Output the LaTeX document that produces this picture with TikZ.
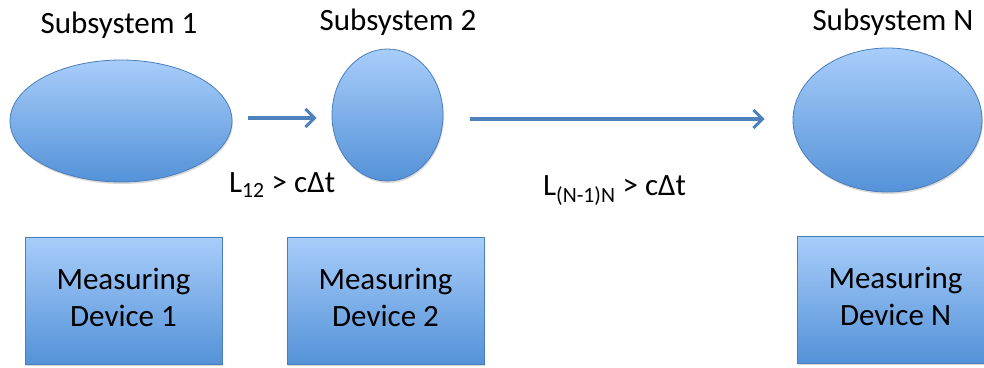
\documentclass[tikz,border=0pt]{standalone}
\usepackage{fontspec}
\setmainfont{Carlito}
\usetikzlibrary{shapes.geometric,arrows.meta,shadows}
\definecolor{edgeblue}{RGB}{74,126,187}
\definecolor{topblue}{RGB}{168,205,250}
\definecolor{botblue}{RGB}{84,146,216}
\definecolor{arrowblue}{RGB}{79,129,189}
\newcommand{\lowpad}{\rule[-7pt]{0pt}{7pt}}
\tikzset{
  blob/.style={ellipse, draw=edgeblue, line width=0.8pt, top color=topblue, bottom color=botblue, inner sep=0pt,
    drop shadow={shadow xshift=0.8pt, shadow yshift=-2pt, opacity=0.25, fill=black!60}},
  devbox/.style={rectangle, draw=edgeblue, line width=0.8pt, top color=topblue, bottom color=botblue,
    minimum width=197pt, minimum height=127pt, inner sep=0pt, align=center,
    font=\fontsize{31}{37}\selectfont,
    drop shadow={shadow xshift=0.8pt, shadow yshift=-2pt, opacity=0.25, fill=black!60}},
  title/.style={anchor=base, font=\fontsize{31}{38}\selectfont, inner sep=0pt},
  lbl/.style={anchor=base west, font=\fontsize{31}{38}\selectfont, inner sep=0pt},
  link/.style={draw=arrowblue, line width=3.5pt, -{Straight Barb[length=9pt, width=18pt, line width=3pt]}},
}
\begin{document}
\begin{tikzpicture}[x=1pt, y=-1pt]
\useasboundingbox (0,0) rectangle (984,367);
% subsystems
\node[blob, minimum width=222pt, minimum height=122pt] (e1) at (121,121) {};
\node[blob, minimum width=111pt, minimum height=132pt] (e2) at (387.5,115) {};
\node[blob, minimum width=189pt, minimum height=144pt] (eN) at (887.5,120) {};
% titles
\node[title] (t1) at (119,33) {Subsystem 1};
\node[title] (t2) at (398,30) {Subsystem 2};
\node[title] (tN) at (893,30) {Subsystem N};
% connectors
\draw[link, shorten <=16pt, shorten >=15pt] (e1.east |- 0,118) -- (e2.west |- 0,118);
\draw[link, shorten <=27pt, shorten >=28pt] (e2.east |- 0,119) -- (eN.west |- 0,119);
% labels
\node[lbl] (l12) at (229,192) {L\textsubscript{12} > cΔt};
\node[lbl] (lN) at (543,195) {L\textsubscript{(N-1)N} > cΔt};
% devices
\node[devbox] (d1) at (123.5,300.5) {Measuring\\Device 1\lowpad};
\node[devbox] (d2) at (385.5,300.5) {Measuring\\Device 2\lowpad};
\node[devbox] (dN) at (895.5,299.5) {Measuring\\Device N\lowpad};
\end{tikzpicture}
\end{document}
